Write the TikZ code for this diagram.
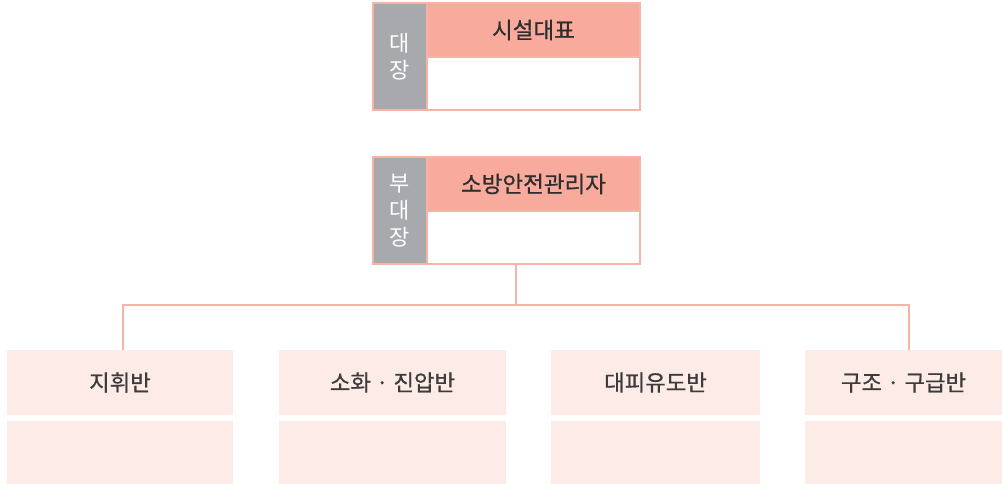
\documentclass[tikz,border=0pt]{standalone}
\usepackage{fontspec}
\setmainfont{Noto Sans CJK KR}
\newfontfamily\medfont{Noto Sans CJK KR}[FakeBold=0.8]
\usetikzlibrary{calc}
\definecolor{bordc}{HTML}{F6B4A6}
\definecolor{headc}{HTML}{F8AA9C}
\definecolor{grayc}{HTML}{A8A9AD}
\definecolor{lightc}{HTML}{FDEBE7}
\definecolor{txtc}{HTML}{2E2E2E}
\definecolor{btxt}{HTML}{3C3C3C}
\tikzset{
  cell/.style={rectangle, inner sep=0pt, outer sep=0pt, draw=bordc, line width=1.5pt},
  grayside/.style={cell, fill=grayc, text=white, font=\fontsize{22}{27}\selectfont, align=center},
  headcell/.style={cell, fill=headc, text=txtc, font=\medfont\fontsize{22.5}{24}\selectfont},
  bodycell/.style={cell, fill=white},
  team/.style={rectangle, inner sep=0pt, outer sep=0pt, fill=lightc, text=btxt, font=\medfont\fontsize{22.3}{24}\selectfont},
  link/.style={draw=bordc, line width=1.6pt}
}
\begin{document}
\begin{tikzpicture}[x=1pt,y=-1pt]
\useasboundingbox (0,0) rectangle (1002,484);
% box A
\node[grayside, minimum width=54pt, minimum height=107pt, anchor=north west] (ga) at (373,3) {대\\장};
\node[headcell, minimum width=213pt, minimum height=54pt, anchor=north west] (ha) at (427,3) {시설대표};
\node[bodycell, minimum width=213pt, minimum height=53pt, anchor=north west] (ba) at (427,57) {};
% box B
\node[grayside, minimum width=54pt, minimum height=107pt, anchor=north west] (gb) at (373,157) {부\\대\\장};
\node[headcell, minimum width=213pt, minimum height=54pt, anchor=north west] (hb) at (427,157) {소방안전관리자};
\node[bodycell, minimum width=213pt, minimum height=53pt, anchor=north west] (bb) at (427,211) {};
% teams
\node[team, minimum width=226pt, minimum height=65pt, anchor=north west] (t1) at (7,350) {지휘반};
\node[team, minimum width=226pt, minimum height=63pt, anchor=north west] (u1) at (7,421) {};
\node[team, minimum width=227pt, minimum height=65pt, anchor=north west] (t2) at (279,350) {소화 · 진압반};
\node[team, minimum width=227pt, minimum height=63pt, anchor=north west] (u2) at (279,421) {};
\node[team, minimum width=209pt, minimum height=65pt, anchor=north west] (t3) at (551,350) {대피유도반};
\node[team, minimum width=209pt, minimum height=63pt, anchor=north west] (u3) at (551,421) {};
\node[team, minimum width=197pt, minimum height=65pt, anchor=north west] (t4) at (805,350) {구조 · 구급반};
\node[team, minimum width=197pt, minimum height=63pt, anchor=north west] (u4) at (805,421) {};
% connectors
\coordinate (j) at (516,305);
\coordinate (jl) at (123,305);
\coordinate (jr) at (909,305);
\draw[link] (j |- bb.south) -- (j);
\draw[link] (jl |- t1.north) -- (jl) -- (jr) -- (jr |- t4.north);
\end{tikzpicture}
\end{document}
